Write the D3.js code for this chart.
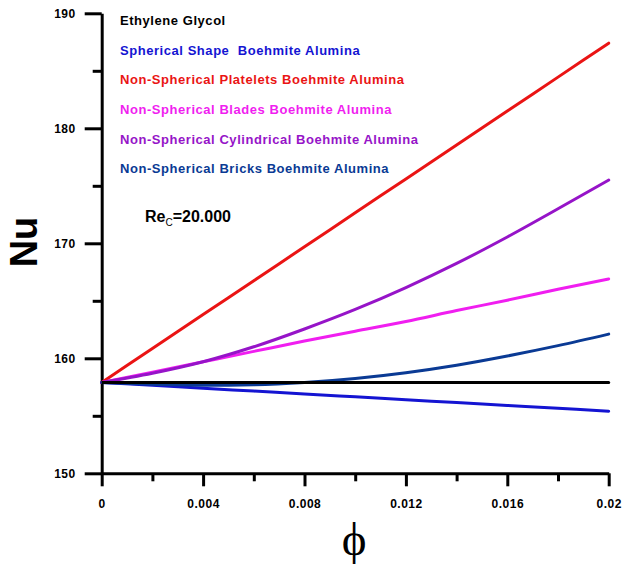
<!DOCTYPE html>
<html>
<head>
<meta charset="utf-8">
<script src="https://cdn.jsdelivr.net/npm/d3@7"></script>
<style>
  html, body { margin: 0; padding: 0; background: #fff; }
  svg { display: block; }
  .axis text { font-family: "Liberation Sans", Arial, sans-serif; font-weight: bold; font-size: 12px; letter-spacing: 0.5px; fill: #000; }
</style>
</head>
<body>
<svg id="chart" width="622" height="564"></svg>
<script>
// Volume fraction (phi) sample points
const phi = [0, 0.002, 0.004, 0.006, 0.008, 0.010, 0.012, 0.014, 0.016, 0.018, 0.020];

// Nusselt number for each fluid
const ethyleneGlycol = [157.9, 157.9, 157.9, 157.9, 157.9, 157.9, 157.9, 157.9, 157.9, 157.9, 157.9];
const spherical      = [157.9, 157.65, 157.4, 157.15, 156.9, 156.65, 156.4, 156.15, 155.9, 155.65, 155.4];
const platelets      = [157.9, 160.85, 163.8, 166.75, 169.7, 172.65, 175.6, 178.55, 181.5, 184.45, 187.4];
const blades         = [157.9, 158.8, 159.7, 160.6, 161.5, 162.35, 163.2, 164.15, 165.05, 166.0, 166.9];
const cylindrical    = [157.9, 158.7, 159.7, 161.0, 162.55, 164.25, 166.15, 168.25, 170.55, 173.0, 175.5];
const bricks         = [157.9, 157.75, 157.65, 157.7, 157.9, 158.25, 158.75, 159.4, 160.2, 161.1, 162.1];

const seriesNames = [
  "Ethylene Glycol",
  "Spherical Shape  Boehmite Alumina",
  "Non-Spherical Platelets Boehmite Alumina",
  "Non-Spherical Blades Boehmite Alumina",
  "Non-Spherical Cylindrical Boehmite Alumina",
  "Non-Spherical Bricks Boehmite Alumina"
];
const seriesColors = ["#000000", "#1414d2", "#ea1414", "#f01ef0", "#9614c8", "#0a3a94"];
const seriesValues = [ethyleneGlycol, spherical, platelets, blades, cylindrical, bricks];

// Axis ticks
const xMajorTicks = [0, 0.004, 0.008, 0.012, 0.016, 0.02];
const xMajorLabels = ["0", "0.004", "0.008", "0.012", "0.016", "0.02"];
const xMinorTicks = [0.002, 0.006, 0.010, 0.014, 0.018];
const yMajorTicks = [150, 160, 170, 180, 190];
const yMinorTicks = [155, 165, 175, 185];

const svg = d3.select("#chart");

const x = d3.scaleLinear().domain([0, 0.02]).range([101.7, 608.7]);
const y = d3.scaleLinear().domain([150, 190]).range([473.3, 13.3]);

// Minor ticks (no labels)
svg.append("g")
  .attr("transform", `translate(${x(0)},0)`)
  .call(d3.axisLeft(y).tickValues(yMinorTicks).tickSize(9).tickSizeOuter(0).tickFormat(""))
  .call(g => g.select(".domain").remove())
  .call(g => g.selectAll("line").attr("stroke", "#000").attr("stroke-width", 3));

svg.append("g")
  .attr("transform", `translate(0,${y(150)})`)
  .call(d3.axisBottom(x).tickValues(xMinorTicks).tickSize(8).tickSizeOuter(0).tickFormat(""))
  .call(g => g.select(".domain").remove())
  .call(g => g.selectAll("line").attr("stroke", "#000").attr("stroke-width", 3));

// Major axes
const yAxis = svg.append("g")
  .attr("class", "axis")
  .attr("transform", `translate(${x(0)},0)`)
  .call(d3.axisLeft(y).tickValues(yMajorTicks).tickSize(17).tickPadding(9).tickSizeOuter(0).tickFormat(d3.format("d")));
yAxis.select(".domain").attr("stroke", "#000").attr("stroke-width", 3);
yAxis.selectAll(".tick line").attr("stroke", "#000").attr("stroke-width", 3);
yAxis.selectAll("text").attr("dy", "0.36em");

const xAxis = svg.append("g")
  .attr("class", "axis")
  .attr("transform", `translate(0,${y(150)})`)
  .call(d3.axisBottom(x).tickValues(xMajorTicks).tickSize(13).tickPadding(13).tickSizeOuter(0)
    .tickFormat((d, i) => xMajorLabels[i]));
xAxis.select(".domain").attr("stroke", "#000").attr("stroke-width", 3);
xAxis.selectAll(".tick line").attr("stroke", "#000").attr("stroke-width", 3);

// Series lines
const line = d3.line()
  .x((d, i) => x(phi[i]))
  .y(d => y(d))
  .curve(d3.curveMonotoneX);

svg.append("g")
  .selectAll("path")
  .data(seriesValues.map((v, i) => ({ v, i })))
  .join("path")
  .attr("d", d => line(d.v))
  .attr("fill", "none")
  .attr("stroke", d => seriesColors[d.i])
  .attr("stroke-width", 3)
  .attr("stroke-linecap", "round");

// Redraw the base fluid on top so the flat reference line stays visible
svg.append("path")
  .attr("d", line(ethyleneGlycol))
  .attr("fill", "none")
  .attr("stroke", seriesColors[0])
  .attr("stroke-width", 3);

// Legend (text only)
const legendBaselines = [25, 54.6, 84.3, 114, 143.6, 173.3];
svg.append("g")
  .selectAll("text")
  .data(seriesNames)
  .join("text")
  .attr("x", 120)
  .attr("y", (d, i) => legendBaselines[i])
  .attr("fill", (d, i) => seriesColors[i])
  .style("font-family", "'Liberation Sans', Arial, sans-serif")
  .style("font-weight", "bold")
  .style("font-size", "13px")
  .style("letter-spacing", "0.55px")
  .style("white-space", "pre")
  .attr("xml:space", "preserve")
  .text(d => d);

// Reynolds number annotation
const re = svg.append("text")
  .attr("x", 145)
  .attr("y", 222)
  .style("font-family", "'Liberation Sans', Arial, sans-serif")
  .style("font-weight", "bold")
  .style("font-size", "16px")
  .attr("fill", "#000");
re.append("tspan").text("Re");
re.append("tspan").attr("dy", 4).style("font-size", "10px").style("font-weight", "normal").text("C");
re.append("tspan").attr("dy", -4).text("=20.000");

// Axis titles
svg.append("text")
  .attr("transform", "translate(37,242) rotate(-90)")
  .attr("text-anchor", "middle")
  .style("font-family", "'Liberation Sans', Arial, sans-serif")
  .style("font-weight", "bold")
  .style("font-size", "38px")
  .attr("fill", "#000")
  .text("Nu");

svg.append("text")
  .attr("x", 354)
  .attr("y", 555)
  .attr("text-anchor", "middle")
  .style("font-family", "'Liberation Serif', 'Times New Roman', serif")
  .style("font-size", "47px")
  .attr("fill", "#000")
  .text("\u03D5");
</script>
</body>
</html>
